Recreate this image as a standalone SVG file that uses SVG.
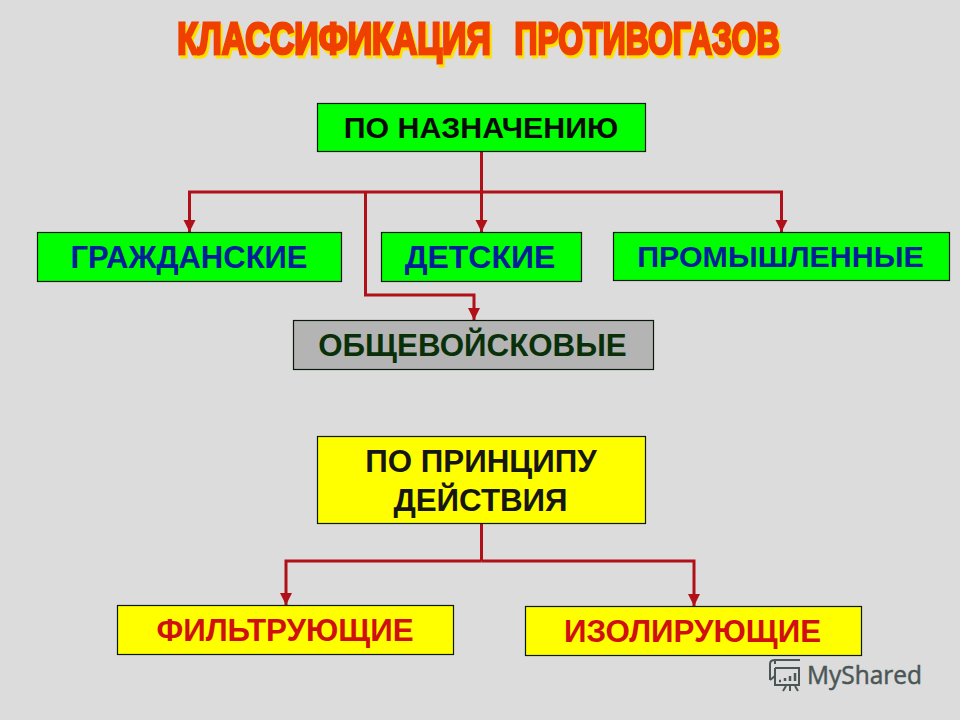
<svg xmlns="http://www.w3.org/2000/svg" width="960" height="720" viewBox="0 0 960 720">
<style>
text{font-family:"Liberation Sans",Arial,sans-serif;font-weight:700;text-anchor:middle}
.box{stroke:#0a1a0a;stroke-width:1.2}
.g{fill:#00ff00}.y{fill:#ffff00}
.blue{fill:#00209a}.red{fill:#d01010}.blk{fill:#0a0a0a}.dk{fill:#161616}
.conn{fill:none;stroke:#b01018;stroke-width:3}
.tf{font-size:45px;fill:#f04000;stroke:#f04000;stroke-width:3}
</style>
<defs>
<marker id="a" markerUnits="userSpaceOnUse" markerWidth="13" markerHeight="13" refX="12" refY="6" orient="auto"><path d="M0 0L12 6L0 12Z" fill="#b01018"/></marker>
<filter id="sh" x="-5%" y="-20%" width="110%" height="140%"><feDropShadow dx="2" dy="3" stdDeviation="0.6" flood-color="#ffe000"/></filter>
</defs>
<rect width="960" height="720" fill="#dcdcdc"/>
<g id="title" filter="url(#sh)">
<text class="tf" transform="translate(334 54) scale(0.754 1)">КЛАССИФИКАЦИЯ</text>
<text class="tf" transform="translate(647 54) scale(0.71 1)">ПРОТИВОГАЗОВ</text>
</g>
<g id="connectors">
<path class="conn" d="M481.500 152V192"/>
<path class="conn" marker-end="url(#a)" d="M481.500 192H189.500V232"/>
<path class="conn" marker-end="url(#a)" d="M481.500 192V232"/>
<path class="conn" marker-end="url(#a)" d="M481.500 192H781.500V232"/>
<path class="conn" marker-end="url(#a)" d="M365.500 192V295H474V320"/>
<path class="conn" d="M481.500 524V561"/>
<path class="conn" marker-end="url(#a)" d="M481.500 561H286V605"/>
<path class="conn" marker-end="url(#a)" d="M481.500 561H694V606"/>
</g>
<g id="node-naznachenie"><rect class="box g" x="317.500" y="103.500" width="328" height="48"/><text class="blk" font-size="30.300" x="481" y="138">ПО НАЗНАЧЕНИЮ</text></g>
<g id="node-grazhdanskie"><rect class="box g" x="37.500" y="232.500" width="304" height="49"/><text class="blue" font-size="31" x="189" y="268">ГРАЖДАНСКИЕ</text></g>
<g id="node-detskie"><rect class="box g" x="381.500" y="232.500" width="200" height="49"/><text class="blue" font-size="32" x="480" y="268">ДЕТСКИЕ</text></g>
<g id="node-promyshlennye"><rect class="box g" x="613.500" y="232.500" width="336" height="48"/><text class="blue" font-size="30.400" x="780.500" y="267">ПРОМЫШЛЕННЫЕ</text></g>
<g id="node-obshchevoiskovye"><rect class="box" fill="#b4b4b4" x="293.500" y="320.500" width="360" height="49"/><text fill="#0a300a" font-size="31.300" x="472.500" y="356">ОБЩЕВОЙСКОВЫЕ</text></g>
<g id="node-printsip"><rect class="box y" x="317.500" y="436.500" width="328" height="87"/><text class="dk" font-size="31.300" x="481" y="472">ПО ПРИНЦИПУ</text><text class="dk" font-size="31.300" x="480.500" y="511">ДЕЙСТВИЯ</text></g>
<g id="node-filtruyushchie"><rect class="box y" x="117.500" y="605.500" width="336" height="49"/><text class="red" font-size="31.300" x="285" y="641">ФИЛЬТРУЮЩИЕ</text></g>
<g id="node-izoliruyushchie"><rect class="box y" x="525.500" y="606.500" width="336" height="49"/><text class="red" font-size="31.300" x="692.500" y="642">ИЗОЛИРУЮЩИЕ</text></g>
<g id="watermark" fill="none" stroke="#4a5656" stroke-width="2">
<path d="M775 664V660H800M770 680V664Q770 660 775 660M775 668H799V685H775V668M770 680L775 676M786 686L783 691M790 686V691M795 686L798 691"/>
<path stroke-width="2.500" d="M779 681h2M785 681v-3M790 681v-5M795 681v-8"/>
<text x="864.500" y="684" style="font-family:'Open Sans','Noto Sans',sans-serif;font-size:25px;font-weight:400" fill="#4a5656" stroke="#4a5656" stroke-width="0.500" textLength="115" lengthAdjust="spacingAndGlyphs">MyShared</text>
</g>
</svg>
